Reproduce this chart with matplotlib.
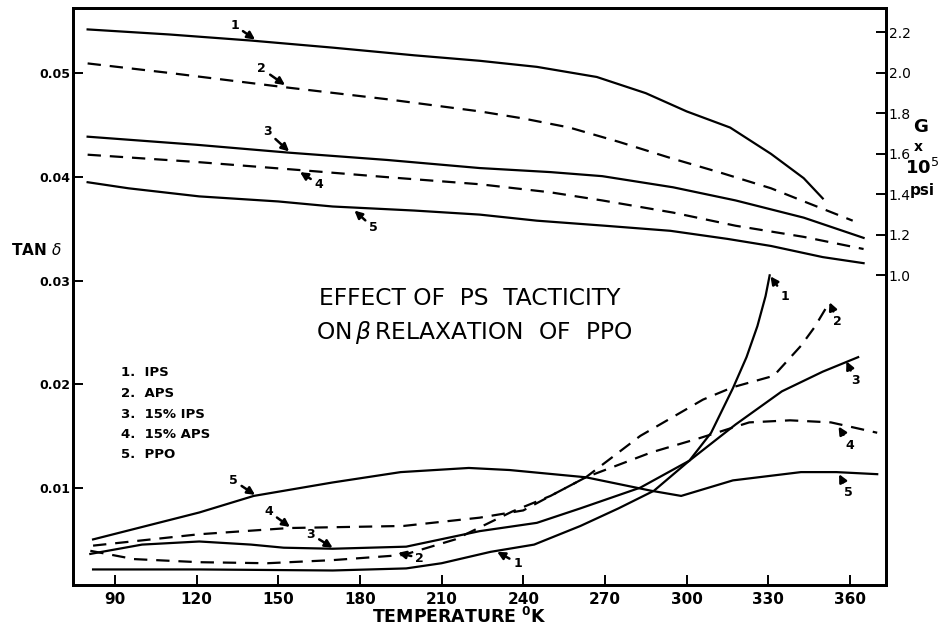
import matplotlib
matplotlib.use('Agg')
from matplotlib import pyplot as plt

# shear modulus G (x 10^5 psi), right axis
g_temp = {
    1: [80, 110, 140, 170, 200, 224, 245, 267, 285, 300, 316, 331, 343, 350],
    2: [80, 110, 152, 190, 224, 240, 257, 275, 294, 313, 331, 345, 361],
    3: [80, 120, 154, 190, 224, 250, 269, 295, 318, 343, 365],
    4: [80, 120, 158, 190, 224, 250, 269, 295, 318, 343, 365],
    5: [80, 95, 121, 150, 170, 200, 224, 245, 270, 294, 315, 331, 350, 365],
}
g_vals = {
    1: [2.215, 2.19, 2.16, 2.125, 2.087, 2.06, 2.03, 1.98, 1.90, 1.81, 1.73, 1.60, 1.48, 1.38],
    2: [2.047, 2.0, 1.93, 1.87, 1.81, 1.775, 1.73, 1.66, 1.58, 1.505, 1.43, 1.355, 1.27],
    3: [1.685, 1.645, 1.606, 1.57, 1.53, 1.51, 1.49, 1.435, 1.37, 1.285, 1.185],
    4: [1.596, 1.56, 1.52, 1.485, 1.45, 1.41, 1.37, 1.31, 1.245, 1.19, 1.13],
    5: [1.46, 1.43, 1.39, 1.365, 1.34, 1.32, 1.30, 1.27, 1.245, 1.22, 1.18, 1.145, 1.09, 1.06],
}

# loss tangent, left axis
tan_temp = {
    1: [82, 121, 170, 197, 210, 228, 244, 261, 275, 288, 301, 309, 317, 322, 326, 329, 330.5],
    2: [81, 97, 121, 146, 170, 196, 215, 236, 250, 263, 283, 306, 317, 332, 342, 347, 352],
    3: [81, 100, 121, 140, 152, 170, 197, 224, 245, 261, 283, 301, 318, 335, 350, 363],
    4: [82, 121, 154, 196, 224, 240, 250, 263, 287, 305, 323, 338, 353, 370],
    5: [82, 100, 121, 141, 170, 195, 220, 235, 263, 287, 298, 317, 342, 355, 370],
}
tan_vals = {
    1: [0.0021, 0.0021, 0.0020, 0.0022, 0.0027, 0.0038, 0.0045, 0.0063, 0.0080, 0.0097,
        0.0126, 0.0153, 0.0196, 0.0226, 0.0256, 0.0285, 0.0305],
    2: [0.0039, 0.0031, 0.0028, 0.0027, 0.0030, 0.0035, 0.0050, 0.0077, 0.0092, 0.0110,
        0.0150, 0.0185, 0.0197, 0.0208, 0.0237, 0.0255, 0.0277],
    3: [0.0036, 0.0045, 0.0048, 0.0045, 0.0042, 0.0041, 0.0043, 0.0058, 0.0066, 0.0080,
        0.0100, 0.0126, 0.0161, 0.0193, 0.0212, 0.0226],
    4: [0.0044, 0.0055, 0.0061, 0.0063, 0.0071, 0.0078, 0.0092, 0.0110, 0.0134, 0.0148,
        0.0163, 0.0165, 0.0163, 0.0153],
    5: [0.0050, 0.0062, 0.0076, 0.0092, 0.0105, 0.0115, 0.0119, 0.0117, 0.0110, 0.0097,
        0.0092, 0.0107, 0.0115, 0.0115, 0.0113],
}

dashed = {2, 4}
legend_lines = ['1.  IPS', '2.  APS', '3.  15% IPS', '4.  15% APS', '5.  PPO']

# curve number labels: (text x, text y, arrow tip x, arrow tip y)
g_marks = {
    1: (134, 2.235, 141.5, 2.165),
    2: (144, 2.02, 152.5, 1.94),
    3: (146, 1.71, 154, 1.612),
    4: (165, 1.45, 158, 1.51),
    5: (185, 1.235, 178, 1.32),
}
tan_marks = [
    (5, 133.5, 0.0107, 141.5, 0.0093),
    (4, 146.5, 0.0077, 154.3, 0.0062),
    (3, 162, 0.0055, 170, 0.0042),
    (2, 202, 0.0032, 194, 0.0037),
    (1, 238, 0.0027, 230.4, 0.0038),
    (1, 336, 0.0285, 330.8, 0.0304),
    (2, 355.5, 0.0260, 352.5, 0.0279),
    (3, 362, 0.0203, 358.7, 0.0222),
    (4, 360, 0.0141, 355.8, 0.0159),
    (5, 359.5, 0.0095, 356, 0.0113),
]

fig = plt.figure(figsize=(9.47, 6.28), dpi=100)
ax = fig.add_axes([0.077, 0.0685, 0.8585, 0.9185])
ax2 = ax.twinx()

line_kw = dict(color='black', lw=1.6)
for k in range(1, 6):
    style = dict(dashes=(6, 4)) if k in dashed else {}
    ax2.plot(g_temp[k], g_vals[k], **line_kw, **style)
    ax.plot(tan_temp[k], tan_vals[k], **line_kw, **style)

ax.set_xlim(74.6, 373.2)
ax.set_ylim(0.0006, 0.0563)
ax2.set_ylim(-0.53, 2.32)

ax.set_xticks(range(90, 361, 30))
ax.set_yticks([0.01, 0.02, 0.03, 0.04, 0.05])
ax.set_yticklabels(['0.01', '0.02', '0.03', '0.04', '0.05'])
ax2.set_yticks([1.0, 1.2, 1.4, 1.6, 1.8, 2.0, 2.2])
ax2.set_yticklabels(['1.0', '1.2', '1.4', '1.6', '1.8', '2.0', '2.2'])

ax.tick_params(axis='x', direction='in', length=7, width=1.4, labelsize=11, pad=5)
ax.tick_params(axis='y', direction='in', length=7, width=1.4, labelsize=9, pad=2)
ax2.tick_params(axis='y', direction='in', length=7, width=1.4, labelsize=10, pad=2)
for lab in ax.get_xticklabels() + ax.get_yticklabels():
    lab.set_fontweight('bold')
for sp in ax.spines.values():
    sp.set_linewidth(2)
for sp in ax2.spines.values():
    sp.set_linewidth(2)

arrow = dict(arrowstyle='-|>,head_length=0.5,head_width=0.25', color='black', lw=1.8,
             shrinkA=1, shrinkB=0)
for k, (tx, ty, ax_, ay_) in g_marks.items():
    ax2.annotate(str(k), xy=(ax_, ay_), xytext=(tx, ty), fontsize=9, fontweight='bold',
                 ha='center', va='center', arrowprops=arrow)
for k, tx, ty, ax_, ay_ in tan_marks:
    ax.annotate(str(k), xy=(ax_, ay_), xytext=(tx, ty), fontsize=9, fontweight='bold',
                ha='center', va='center', arrowprops=arrow)

# title block inside the plot
ax.text(0.488, 0.497, 'EFFECT OF  PS  TACTICITY', transform=ax.transAxes, fontsize=16.8,
        ha='center', va='center', family='DejaVu Sans')
ax.text(0.493, 0.438, r'ON$\,\mathit{\beta}\,$RELAXATION  OF  PPO', transform=ax.transAxes,
        fontsize=16.8, ha='center', va='center', family='DejaVu Sans')

for i, s in enumerate(legend_lines):
    fig.text(0.128, 1 - (373 + i * 20.5) / 628, s, fontsize=9.5, fontweight='bold',
             va='center', ha='left')

fig.text(0.012, 1 - 250 / 628, r'TAN $\delta$', fontsize=11, fontweight='bold', va='center')
fig.text(0.972, 1 - 127 / 628, 'G', fontsize=13, fontweight='bold', ha='center', va='center')
fig.text(0.970, 1 - 147 / 628, 'x', fontsize=10, fontweight='bold', ha='center', va='center')
fig.text(0.974, 1 - 168 / 628, r'10$^5$', fontsize=13, fontweight='bold', ha='center', va='center')
fig.text(0.974, 1 - 190 / 628, 'psi', fontsize=11, fontweight='bold', ha='center', va='center')
fig.text(0.485, 1 - 617 / 628, r'TEMPERATURE $^{\mathbf{0}}$K', fontsize=12.5, fontweight='bold',
         ha='center', va='center')

fig.savefig('out.png', dpi=100, facecolor='white')
